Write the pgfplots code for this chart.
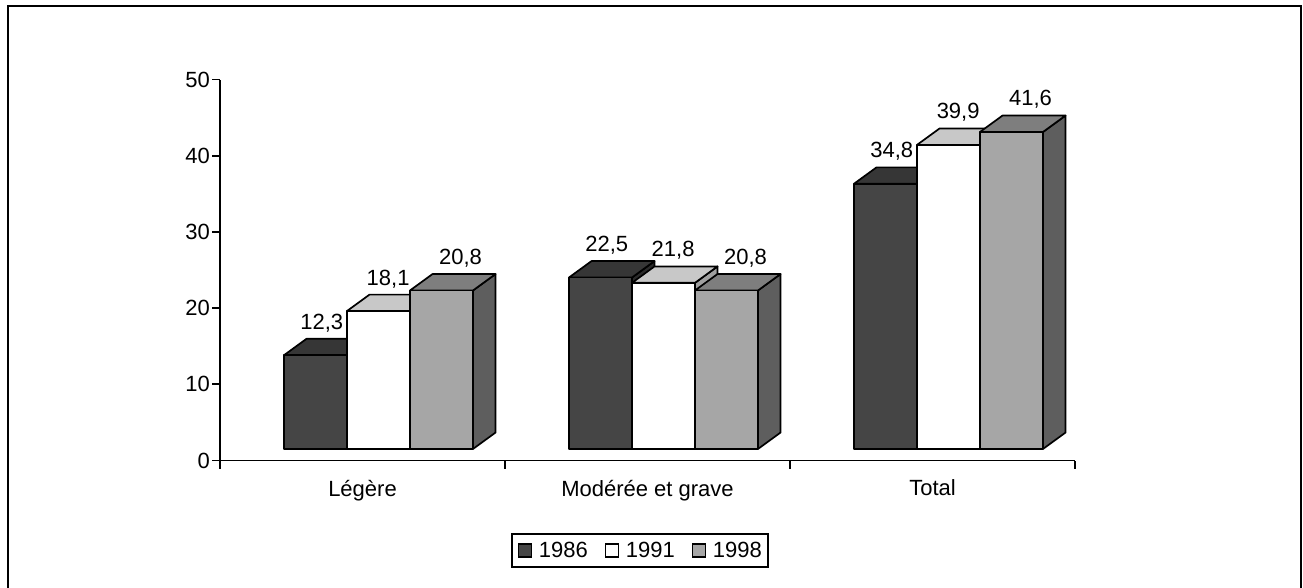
\documentclass[border=0pt]{standalone}
\usepackage{fontspec}
\setmainfont{Liberation Sans}
\usepackage{pgfplots}
\pgfplotsset{compat=1.18}
\usepackage{pgfplotstable}

\definecolor{dkF}{HTML}{454545}
\definecolor{dkT}{HTML}{363636}
\definecolor{dkS}{HTML}{2A2A2A}
\definecolor{whF}{HTML}{FFFFFF}
\definecolor{whT}{HTML}{C8C8C8}
\definecolor{whS}{HTML}{A0A0A0}
\definecolor{grF}{HTML}{A6A6A6}
\definecolor{grT}{HTML}{7E7E7E}
\definecolor{grS}{HTML}{5E5E5E}

\newcommand\fs{\fontsize{22}{26}\selectfont}

\def\bw{0.2211}
\def\ddx{0.0789}
\def\base{1.52}
\def\ddy{2.15}

% #1 left edge of front face (category units), #2 value, #3 front, #4 top, #5 side colour
\newcommand{\threedbar}[5]{%
  \pgfmathsetmacro\xa{#1}%
  \pgfmathsetmacro\xb{#1+\bw}%
  \pgfmathsetmacro\xc{#1+\ddx}%
  \pgfmathsetmacro\xd{#1+\bw+\ddx}%
  \pgfmathsetmacro\ya{\base}%
  \pgfmathsetmacro\yb{\base+#2}%
  \pgfmathsetmacro\yc{\base+\ddy}%
  \pgfmathsetmacro\yd{\base+#2+\ddy}%
  \addplot[forget plot, fill=#5, draw=black, line width=1.7pt, line join=round]
    coordinates {(\xb,\ya) (\xd,\yc) (\xd,\yd) (\xb,\yb)} -- cycle;
  \addplot[forget plot, fill=#4, draw=black, line width=1.7pt, line join=round]
    coordinates {(\xa,\yb) (\xb,\yb) (\xd,\yd) (\xc,\yd)} -- cycle;
  \addplot[forget plot, fill=#3, draw=black, line width=1.7pt, line join=round]
    coordinates {(\xa,\ya) (\xb,\ya) (\xb,\yb) (\xa,\yb)} -- cycle;
}

\pgfplotstableread{
x y
0.357 12.3
0.590 18.1
0.844 20.8
1.357 22.5
1.590 21.8
1.844 20.8
2.357 34.8
2.590 39.9
2.844 41.6
}\labeltab

\begin{document}
\begin{tikzpicture}[x=1pt,y=1pt]
\useasboundingbox (0,0) rectangle (1303,587);
\fill[white] (0,0) rectangle (1303,587);
\draw[line width=1.7pt] (8,-3) -- (8,581) -- (1301,581) -- (1301,-3);
\begin{axis}[
  at={(220pt,126.5pt)}, anchor=south west,
  scale only axis, width=855pt, height=381pt,
  xmin=0, xmax=3, ymin=0, ymax=50,
  axis x line*=bottom, axis y line*=left,
  every inner x axis line/.append style={-},
  every outer x axis line/.append style={-},
  every inner y axis line/.append style={-},
  every outer y axis line/.append style={-},
  axis line style={line width=1.9pt, -},
  xtick={0,1,2,3}, x tick label as interval,
  xticklabels={Légère, Modérée et grave, Total},
  ytick={0,10,20,30,40,50},
  tick align=outside, major tick length=8pt,
  tick style={line width=1.9pt, black},
  ticklabel style={font=\fs},
  xticklabel style={yshift=-8pt},
  yticklabel style={inner xsep=2pt},
  /pgf/number format/assume math mode=true,
  clip=false,
  legend style={at={(0.491,-0.236)}, anchor=center, draw=black, line width=1.7pt,
    legend columns=3, font=\fs, inner xsep=6pt, inner ysep=8pt,
    nodes={inner sep=0pt},
    /tikz/every odd column/.append style={column sep=6.5pt},
    /tikz/every even column/.append style={column sep=17pt}},
  legend image code/.code={\draw[#1, draw=black, line width=1.6pt] (0pt,-6.5pt) rectangle (13pt,6.5pt);},
]
\addlegendimage{fill=dkF}\addlegendentry{1986}
\addlegendimage{fill=whF}\addlegendentry{1991}
\addlegendimage{fill=grF}\addlegendentry{1998}

\threedbar{0.2246}{12.3}{dkF}{dkT}{dkS}
\threedbar{0.4457}{18.1}{whF}{whT}{whS}
\threedbar{0.6668}{20.8}{grF}{grT}{grS}

\threedbar{1.2246}{22.5}{dkF}{dkT}{dkS}
\threedbar{1.4457}{21.8}{whF}{whT}{whS}
\threedbar{1.6668}{20.8}{grF}{grT}{grS}

\threedbar{2.2246}{34.8}{dkF}{dkT}{dkS}
\threedbar{2.4457}{39.9}{whF}{whT}{whS}
\threedbar{2.6668}{41.6}{grF}{grT}{grS}

\addplot[forget plot, draw=none, point meta=y,
  nodes near coords={\pgfmathprintnumber[fixed,fixed zerofill,precision=1,use comma]{\pgfplotspointmeta}},
  every node near coord/.style={anchor=center, yshift=43.8pt, font=\fs, text=black, inner sep=0pt}]
  table[x=x, y=y] {\labeltab};
\end{axis}
\end{tikzpicture}
\end{document}
